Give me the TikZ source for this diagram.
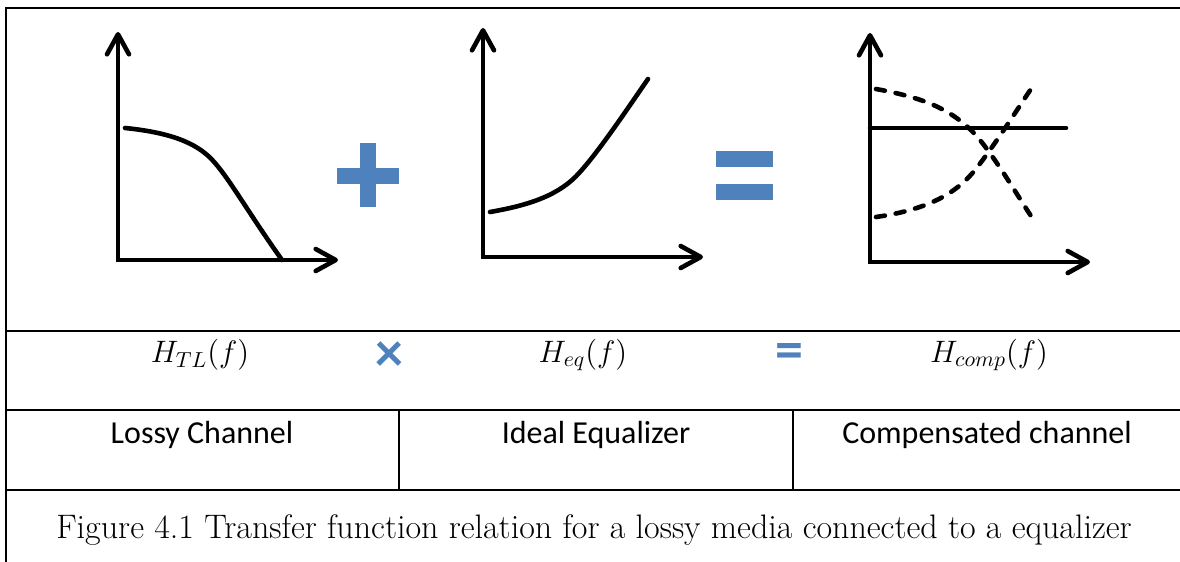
\RequirePackage{fix-cm}
\documentclass[tikz,border=0pt]{standalone}
\usepackage{fontspec}
\newfontfamily\calibri{Carlito}
\usetikzlibrary{arrows.meta}
\definecolor{opblue}{HTML}{4F81BD}

\begin{document}
\begin{tikzpicture}[x=0.5pt,y=-0.5pt,
  axis/.style={line width=2.3pt,{Straight Barb[length=10pt,width=11pt,round]}-{Straight Barb[length=10pt,width=11pt,round]}},
  curve/.style={line width=2.3pt,line cap=round},
  dashcurve/.style={curve,dash pattern=on 4.5pt off 5.5pt},
  rule/.style={line width=1pt},
  sym/.style={fill=opblue},
  op/.style={font=\calibri\bfseries\fontsize{28}{28}\selectfont,text=opblue},
  fn/.style={font=\fontsize{15.5}{18}\selectfont},
  cell/.style={font=\calibri\fontsize{16}{19}\selectfont}]
\useasboundingbox (0,0) rectangle (1180,562);
% table lines
\draw[line width=1.3pt] (6,562) -- (6,8) -- (1180,8);
\draw[rule] (6,331) -- (1180,331);
\draw[rule] (6,410) -- (1180,410);
\draw[rule] (6,490) -- (1180,490);
\draw[rule] (399,410) -- (399,490);
\draw[rule] (793,410) -- (793,490);
% lossy channel
\draw[axis] (118,32) -- (118,260) -- (338,260);
\draw[curve] (125,128) .. controls (175,133) and (200,145) .. (215,163)
  .. controls (230,180) and (250,215) .. (282,260);
% plus
\fill[sym] (360,143) rectangle (376,207);
\fill[sym] (337,168) rectangle (399,184);
% equalizer
\draw[axis] (483,28) -- (483,257) -- (703,257);
\draw[curve] (490,212) .. controls (530,205) and (560,195) .. (580,172)
  .. controls (600,150) and (630,105) .. (648,79);
% equals
\fill[sym] (716,151) rectangle (773,167);
\fill[sym] (716,184) rectangle (773,200);
% compensated
\draw[axis] (870,33) -- (870,262) -- (1090,262);
\draw[curve] (870,128) -- (1066,128);
\draw[dashcurve] (876,89) .. controls (925,98) and (955,110) .. (980,140)
  .. controls (1000,165) and (1020,200) .. (1035,222);
\draw[dashcurve] (876,217) .. controls (925,210) and (955,195) .. (975,170)
  .. controls (995,145) and (1020,105) .. (1035,83);
% labels
\node[fn] (htl) at (200,355) {$H_{TL}(f)$};
\node[op] (times) at (389,357) {×};
\node[fn] (heq) at (583,355) {$H_{eq}(f)$};
\node[op] (equals) at (789,356) {=};
\node[fn] (hcomp) at (989,355) {$H_{comp}(f)$};
\node[cell] (lossy) at (202,435) {Lossy Channel};
\node[cell] (ideal) at (596,435) {Ideal Equalizer};
\node[cell] (comp) at (987,435) {Compensated channel};
\node[font=\fontsize{17}{20}\selectfont] (caption) at (594,530)
  {Figure 4.1 Transfer function relation for a lossy media connected to a equalizer};
\end{tikzpicture}
\end{document}
